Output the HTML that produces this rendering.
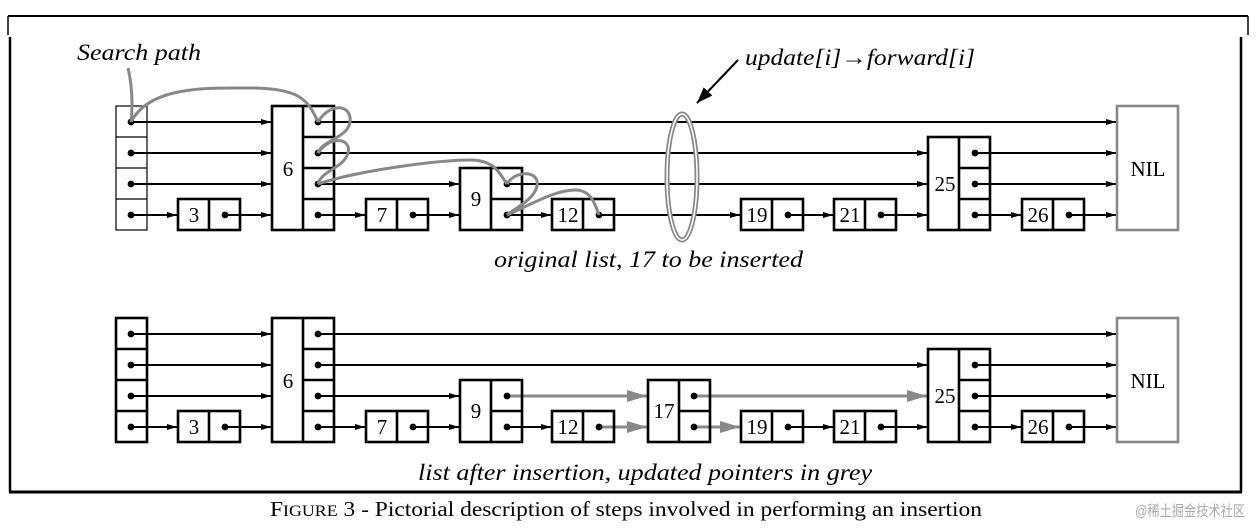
<!DOCTYPE html>
<html><head><meta charset="utf-8"><style>
html,body{margin:0;padding:0;background:#fff;}
svg{display:block;font-family:"Liberation Serif","Times New Roman",Times,serif;}
svg text{font-family:"Liberation Serif","Times New Roman",Times,serif;}
.n{font-size:21px;}
.i{font-style:italic;font-size:23px;}
</style></head><body>
<svg width="1259" height="531" viewBox="0 0 1259 531" xmlns="http://www.w3.org/2000/svg" font-family="Liberation Serif, Times New Roman, serif">
<defs>
<marker id="a" viewBox="0 0 10 6" refX="10" refY="3" markerWidth="10" markerHeight="6" markerUnits="userSpaceOnUse" orient="auto"><path d="M0,0L10,3L0,6z" fill="#000"/></marker>
<marker id="g" viewBox="0 0 20 12" refX="20" refY="6" markerWidth="20" markerHeight="12" markerUnits="userSpaceOnUse" orient="auto"><path d="M0,0L20,6L0,12z" fill="#888"/></marker>
<marker id="b" viewBox="0 0 16 12" refX="16" refY="6" markerWidth="16" markerHeight="12" markerUnits="userSpaceOnUse" orient="auto"><path d="M0,0L16,6L0,12z" fill="#000"/></marker>
</defs>
<path d="M8,16H1248" stroke="#000" stroke-width="2"/>
<path d="M8,16V35M1248,16V35" stroke="#000" stroke-width="1.5"/>
<path d="M10,37V492M1241,37V492" stroke="#000" stroke-width="2.5"/>
<path d="M9,492H1242" stroke="#000" stroke-width="3"/>

<g stroke="#000" stroke-width="2.6" fill="none">
<g stroke="#000" stroke-width="2" marker-end="url(#a)">
<line x1="131" y1="122" x2="271" y2="122"/><line x1="131" y1="153" x2="271" y2="153"/>
<line x1="131" y1="184" x2="271" y2="184"/><line x1="131" y1="215" x2="177" y2="215"/>
<line x1="225" y1="215" x2="271" y2="215"/>
<line x1="318" y1="122" x2="1116" y2="122"/><line x1="318" y1="153" x2="927" y2="153"/>
<line x1="318" y1="184" x2="459" y2="184"/><line x1="318" y1="215" x2="365" y2="215"/>
<line x1="413" y1="215" x2="459" y2="215"/>
<line x1="507" y1="184" x2="927" y2="184"/><line x1="507" y1="215" x2="551" y2="215"/>
<line x1="599" y1="215" x2="740" y2="215"/><line x1="788" y1="215" x2="833" y2="215"/>
<line x1="881" y1="215" x2="927" y2="215"/>
<line x1="975" y1="153" x2="1116" y2="153"/><line x1="975" y1="184" x2="1116" y2="184"/>
<line x1="975" y1="215" x2="1021" y2="215"/><line x1="1069" y1="215" x2="1116" y2="215"/>
</g>
<rect x="116" y="106" width="31" height="124" stroke-width="1.2"/>
<path d="M116,137H147M116,168H147M116,199H147" stroke-width="1.2"/>
<rect x="178" y="199" width="62" height="31"/><path d="M209,199V230"/>
<rect x="272" y="106" width="62" height="124"/><path d="M303,106V230M303,137H334M303,168H334M303,199H334"/>
<rect x="366" y="199" width="62" height="31"/><path d="M397,199V230"/>
<rect x="460" y="168" width="62" height="62"/><path d="M491,168V230M491,199H522"/>
<rect x="552" y="199" width="62" height="31"/><path d="M583,199V230"/>
<rect x="741" y="199" width="62" height="31"/><path d="M772,199V230"/>
<rect x="834" y="199" width="62" height="31"/><path d="M865,199V230"/>
<rect x="928" y="137" width="62" height="93"/><path d="M959,137V230M959,168H990M959,199H990"/>
<rect x="1022" y="199" width="62" height="31"/><path d="M1053,199V230"/>
<rect x="1117" y="106" width="61" height="124" stroke="#888"/>
</g>
<g fill="#000">
<circle cx="131" cy="122" r="3.4"/><circle cx="131" cy="153" r="3.4"/><circle cx="131" cy="184" r="3.4"/><circle cx="131" cy="215" r="3.4"/>
<circle cx="225" cy="215" r="3.4"/>
<circle cx="318" cy="122" r="3.4"/><circle cx="318" cy="153" r="3.4"/><circle cx="318" cy="184" r="3.4"/><circle cx="318" cy="215" r="3.4"/>
<circle cx="413" cy="215" r="3.4"/><circle cx="507" cy="184" r="3.4"/><circle cx="507" cy="215" r="3.4"/>
<circle cx="599" cy="215" r="3.4"/><circle cx="788" cy="215" r="3.4"/><circle cx="881" cy="215" r="3.4"/>
<circle cx="975" cy="153" r="3.4"/><circle cx="975" cy="184" r="3.4"/><circle cx="975" cy="215" r="3.4"/>
<circle cx="1069" cy="215" r="3.4"/>
</g>
<g class="n" text-anchor="middle">
<text x="194" y="222">3</text><text x="288" y="176">6</text><text x="382" y="222">7</text>
<text x="476" y="206">9</text><text x="568" y="222">12</text><text x="757" y="222">19</text>
<text x="850" y="222">21</text><text x="945" y="191">25</text><text x="1038" y="222">26</text>
<text x="1148" y="176">NIL</text>
</g>
<g fill="none" stroke="#888" stroke-width="3">
<path d="M128,68C132,85 133,105 131,122"/>
<path d="M131,122C150,85 210,88 250,88C300,88 308,100 318,122"/>
<path d="M318,122C330,102 352,104 350,122C348,138 322,140 318,153"/>
<path d="M318,153C330,135 352,138 348,153C344,168 322,170 318,184"/>
<path d="M318,184C360,170 440,160 470,160C496,160 500,175 507,184"/>
<path d="M507,184C515,170 540,170 537,186C534,200 515,208 507,215"/>
<path d="M507,215C530,205 555,190 575,190C592,190 595,205 599,215"/>
</g>
<ellipse cx="682" cy="177" rx="15" ry="63" fill="none" stroke="#888" stroke-width="5"/>
<ellipse cx="682" cy="177" rx="15" ry="63" fill="none" stroke="#fff" stroke-width="1.5"/>
<line x1="738" y1="60" x2="697" y2="103" stroke="#000" stroke-width="2" marker-end="url(#b)"/>
<text class="i" x="745" y="65" textLength="230" lengthAdjust="spacingAndGlyphs">update[i]→forward[i]</text>
<text class="i" x="77" y="60" textLength="124" lengthAdjust="spacingAndGlyphs">Search path</text>
<text class="i" x="494" y="267" textLength="309" lengthAdjust="spacingAndGlyphs">original list, 17 to be inserted</text>

<g stroke="#000" stroke-width="2.6" fill="none">
<g stroke="#000" stroke-width="2" marker-end="url(#a)">
<line x1="131" y1="334" x2="271" y2="334"/><line x1="131" y1="365" x2="271" y2="365"/>
<line x1="131" y1="396" x2="271" y2="396"/><line x1="131" y1="427" x2="177" y2="427"/>
<line x1="225" y1="427" x2="271" y2="427"/>
<line x1="318" y1="334" x2="1116" y2="334"/><line x1="318" y1="365" x2="927" y2="365"/>
<line x1="318" y1="396" x2="459" y2="396"/><line x1="318" y1="427" x2="365" y2="427"/>
<line x1="413" y1="427" x2="459" y2="427"/>
<line x1="507" y1="427" x2="551" y2="427"/>
<line x1="788" y1="427" x2="833" y2="427"/>
<line x1="881" y1="427" x2="927" y2="427"/>
<line x1="975" y1="365" x2="1116" y2="365"/><line x1="975" y1="396" x2="1116" y2="396"/>
<line x1="975" y1="427" x2="1021" y2="427"/><line x1="1069" y1="427" x2="1116" y2="427"/>
</g>
<g stroke="#888" stroke-width="3" marker-end="url(#g)">
<line x1="507" y1="396" x2="647" y2="396"/><line x1="599" y1="427" x2="647" y2="427"/>
<line x1="694" y1="396" x2="927" y2="396"/><line x1="694" y1="427" x2="740" y2="427"/>
</g>
<rect x="116" y="318" width="31" height="124"/>
<path d="M116,349H147M116,380H147M116,411H147"/>
<rect x="178" y="411" width="62" height="31"/><path d="M209,411V442"/>
<rect x="272" y="318" width="62" height="124"/><path d="M303,318V442M303,349H334M303,380H334M303,411H334"/>
<rect x="366" y="411" width="62" height="31"/><path d="M397,411V442"/>
<rect x="460" y="380" width="62" height="62"/><path d="M491,380V442M491,411H522"/>
<rect x="552" y="411" width="62" height="31"/><path d="M583,411V442"/>
<rect x="648" y="380" width="62" height="62"/><path d="M679,380V442M679,411H710"/>
<rect x="741" y="411" width="62" height="31"/><path d="M772,411V442"/>
<rect x="834" y="411" width="62" height="31"/><path d="M865,411V442"/>
<rect x="928" y="349" width="62" height="93"/><path d="M959,349V442M959,380H990M959,411H990"/>
<rect x="1022" y="411" width="62" height="31"/><path d="M1053,411V442"/>
<rect x="1117" y="318" width="61" height="124" stroke="#888"/>
</g>
<g fill="#000">
<circle cx="131" cy="334" r="3.4"/><circle cx="131" cy="365" r="3.4"/><circle cx="131" cy="396" r="3.4"/><circle cx="131" cy="427" r="3.4"/>
<circle cx="225" cy="427" r="3.4"/>
<circle cx="318" cy="334" r="3.4"/><circle cx="318" cy="365" r="3.4"/><circle cx="318" cy="396" r="3.4"/><circle cx="318" cy="427" r="3.4"/>
<circle cx="413" cy="427" r="3.4"/><circle cx="507" cy="396" r="3.4"/><circle cx="507" cy="427" r="3.4"/>
<circle cx="599" cy="427" r="3.4"/><circle cx="694" cy="396" r="3.4"/><circle cx="694" cy="427" r="3.4"/>
<circle cx="788" cy="427" r="3.4"/><circle cx="881" cy="427" r="3.4"/>
<circle cx="975" cy="365" r="3.4"/><circle cx="975" cy="396" r="3.4"/><circle cx="975" cy="427" r="3.4"/>
<circle cx="1069" cy="427" r="3.4"/>
</g>
<g class="n" text-anchor="middle">
<text x="194" y="434">3</text><text x="288" y="388">6</text><text x="382" y="434">7</text>
<text x="476" y="418">9</text><text x="568" y="434">12</text><text x="664" y="418">17</text>
<text x="757" y="434">19</text>
<text x="850" y="434">21</text><text x="945" y="403">25</text><text x="1038" y="434">26</text>
<text x="1148" y="388">NIL</text>
</g>
<text class="i" x="418" y="480" textLength="454" lengthAdjust="spacingAndGlyphs">list after insertion, updated pointers in grey</text>

<text x="270" y="516" font-size="21" textLength="712" lengthAdjust="spacingAndGlyphs">F<tspan font-size="16">IGURE</tspan> 3 - Pictorial description of steps involved in performing an insertion</text>
<text x="1135" y="516" font-size="15" fill="#aaa" style='font-family:"Liberation Sans","Noto Sans CJK SC",sans-serif' textLength="110" lengthAdjust="spacingAndGlyphs">@稀土掘金技术社区</text>
</svg>
</body></html>
